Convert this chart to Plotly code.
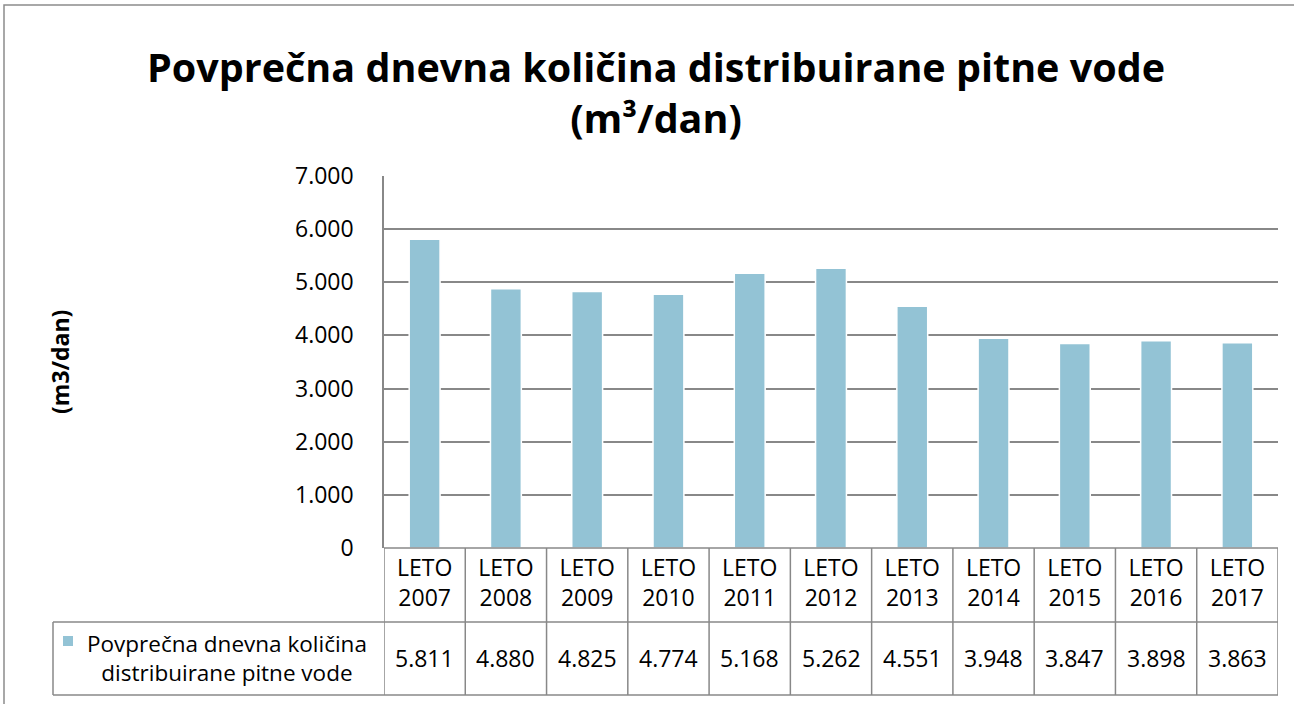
import plotly.graph_objects as go

categories = ["LETO 2007", "LETO 2008", "LETO 2009", "LETO 2010", "LETO 2011", "LETO 2012",
              "LETO 2013", "LETO 2014", "LETO 2015", "LETO 2016", "LETO 2017"]
values = [5811, 4880, 4825, 4774, 5168, 5262, 4551, 3948, 3847, 3898, 3863]
series_name = "Povprečna dnevna količina<br>distribuirane pitne vode"
title_text = "Povprečna dnevna količina distribuirane pitne vode<br>(m³/dan)"
y_title = "(m3/dan)"

W, H = 1294, 704
L, R, T, B = 384, 1278, 176, 548
FONT = "Open Sans"
BAR = "#93C3D5"
GRID = "#888888"
FS = 23


def px(x):
    return (x - L) / (R - L)


def py(y):
    return (B - y) / (B - T)


def fmt(v):
    return f"{v:,}".replace(",", ".")


tick_labels = [c.replace(" ", "<br>") for c in categories]
idx = list(range(len(categories)))

fig = go.Figure()
fig.add_trace(go.Bar(
    x=idx, y=values, width=0.38,
    marker=dict(color=BAR, line=dict(color="white", width=1.5)),
    showlegend=False,
))

shapes = []
# outer chart border
shapes.append(dict(type="rect", xref="paper", yref="paper", x0=px(4), x1=px(1300), y0=py(712), y1=py(5),
                   line=dict(color="#8c8c8c", width=1.5), layer="below"))
# table lines
tl = dict(color=GRID, width=1.5)
shapes.append(dict(type="line", xref="x", yref="paper", x0=-0.5, x1=10.5, y0=0, y1=0, line=tl))
shapes.append(dict(type="line", xref="paper", yref="paper", x0=px(53), x1=1, y0=py(622), y1=py(622), line=tl))
shapes.append(dict(type="line", xref="paper", yref="paper", x0=px(53), x1=1, y0=py(695), y1=py(695), line=tl))
shapes.append(dict(type="line", xref="paper", yref="paper", x0=px(53), x1=px(53), y0=py(622), y1=py(695), line=tl))
for i in idx:
    shapes.append(dict(type="line", xref="x", yref="paper", x0=i - 0.5, x1=i - 0.5, y0=py(548), y1=py(695), line=tl))
shapes.append(dict(type="line", xref="x", yref="paper", x0=10.5, x1=10.5, y0=py(548), y1=py(695), line=tl))
# legend swatch
shapes.append(dict(type="rect", xref="paper", yref="paper", x0=px(63), x1=px(73), y0=py(646), y1=py(636),
                   line=dict(width=0), fillcolor=BAR))

annotations = []
for i, v in zip(idx, values):
    annotations.append(dict(x=i, y=py(658), xref="x", yref="paper", text=fmt(v), showarrow=False,
                            xanchor="center", yanchor="middle",
                            font=dict(family=FONT, size=FS, color="#000")))
annotations.append(dict(x=px(227), y=py(658), xref="paper", yref="paper",
                        text=series_name, showarrow=False, xanchor="center", yanchor="middle",
                        align="center", font=dict(family=FONT, size=22.5, color="#000")))
annotations.append(dict(x=px(60), y=py(362), xref="paper", yref="paper", text=y_title, textangle=-90,
                        showarrow=False, xanchor="center", yanchor="middle",
                        font=dict(family=FONT, size=23, color="#000", weight="bold")))

fig.update_layout(
    width=W, height=H,
    margin=dict(l=L, r=W - R, t=T, b=H - B),
    paper_bgcolor="white", plot_bgcolor="white",
    separators=",.",
    title=dict(text=title_text, x=656 / W, xref="container", yref="container", xanchor="center",
               y=1 - 82 / H, yanchor="middle",
               font=dict(family=FONT, size=39.5, color="#000", weight="bold")),
    xaxis=dict(tickmode="array", tickvals=idx, ticktext=tick_labels, range=[-0.5, 10.5],
               showgrid=False, showline=False, zeroline=False, ticks="", automargin=False,
               ticklabelstandoff=4, tickfont=dict(family=FONT, size=FS, color="#000")),
    yaxis=dict(range=[0, 7000], dtick=1000, tickformat=",d", showgrid=True, gridcolor=GRID, gridwidth=1.5,
               showline=True, linecolor=GRID, linewidth=1.5, zeroline=False, ticks="", automargin=False,
               ticklabelstandoff=24, tickfont=dict(family=FONT, size=FS, color="#000")),
    shapes=shapes,
    annotations=annotations,
    font=dict(family=FONT),
)

fig.write_html("out.html", config={"displayModeBar": False},
               post_script="document.body.style.margin='0';document.body.style.padding='0';")
